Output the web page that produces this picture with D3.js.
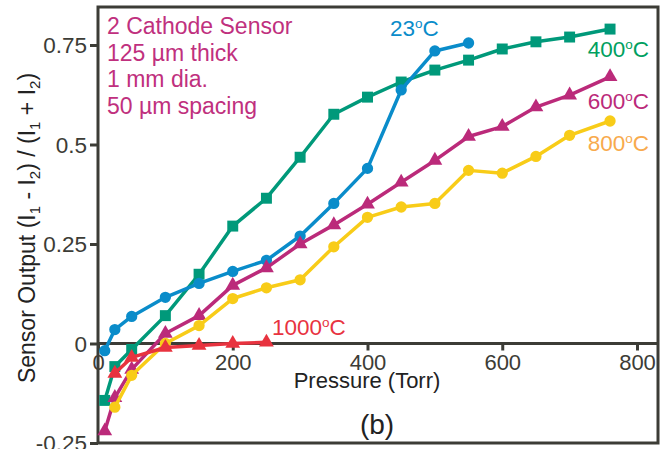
<!DOCTYPE html>
<html>
<head>
<meta charset="utf-8">
<script src="https://cdn.jsdelivr.net/npm/d3@7"></script>
<style>
  body { margin: 0; background: #fff; }
  svg { display: block; font-family: "Liberation Sans", Arial, sans-serif; }
</style>
</head>
<body>
<div id="chart"></div>
<script>
// data
var p23 = [10, 25, 50, 100, 150, 200, 250, 300, 350, 400, 450, 500, 550];
var v23 = [-0.018, 0.035, 0.068, 0.116, 0.151, 0.181, 0.209, 0.27, 0.352, 0.44, 0.637, 0.735, 0.755];

var p400 = [10, 25, 50, 100, 150, 200, 250, 300, 350, 400, 450, 500, 550, 600, 650, 700, 760];
var v400 = [-0.143, -0.058, -0.015, 0.07, 0.174, 0.295, 0.365, 0.468, 0.576, 0.619, 0.657, 0.687, 0.712, 0.74, 0.758, 0.77, 0.79];

var p600 = [10, 25, 50, 100, 150, 200, 250, 300, 350, 400, 450, 500, 550, 600, 650, 700, 760];
var v600 = [-0.22, -0.136, -0.065, 0.025, 0.07, 0.146, 0.19, 0.25, 0.298, 0.35, 0.405, 0.46, 0.52, 0.545, 0.594, 0.624, 0.67];

var p800 = [25, 50, 100, 150, 200, 250, 300, 350, 400, 450, 500, 550, 600, 650, 700, 760];
var v800 = [-0.16, -0.08, 0.0, 0.045, 0.113, 0.14, 0.16, 0.243, 0.317, 0.343, 0.352, 0.435, 0.428, 0.47, 0.523, 0.559];

var p1000 = [25, 50, 100, 150, 200, 250];
var v1000 = [-0.075, -0.035, -0.01, -0.005, 0.0, 0.003];

var xTicks = [0, 200, 400, 600, 800];
var yTicks = [-0.25, 0, 0.25, 0.5, 0.75];
var yTickLabels = ["-0.25", "0", "0.25", "0.5", "0.75"];

var infoLines = ["2 Cathode Sensor", "125 \u00b5m thick", "1 mm dia.", "50 \u00b5m spacing"];

var W = 668, H = 449;
var axisCol = "#3c3c36";

var x = d3.scaleLinear().domain([0, 800]).range([98, 637]);
var y = d3.scaleLinear().domain([-0.25, 0.75]).range([443, 45]);

var svg = d3.select("#chart").append("svg")
    .attr("width", W).attr("height", H);

// frame
var fx0 = x(0), fx1 = 658, fy0 = 7, fy1 = y(-0.25);
svg.append("rect")
    .attr("x", fx0).attr("y", fy0)
    .attr("width", fx1 - fx0).attr("height", fy1 - fy0)
    .attr("fill", "none").attr("stroke", axisCol).attr("stroke-width", 3);

// y axis ticks + labels
var yAxis = d3.axisLeft(y).tickValues(yTicks).tickSize(8)
    .tickFormat(function (d, i) { return yTickLabels[i]; });
var gy = svg.append("g").attr("transform", "translate(" + fx0 + ",0)").call(yAxis);
gy.select(".domain").remove();
gy.selectAll(".tick line").attr("stroke", axisCol).attr("stroke-width", 3);
gy.selectAll(".tick text").attr("fill", axisCol).attr("font-size", 22.5)
    .attr("font-family", "Liberation Sans, Arial, sans-serif").attr("x", -11).attr("dy", "0.35em");

// x axis along zero line, ticks hanging below
var xAxis = d3.axisBottom(x).tickValues(xTicks).tickSize(7).tickFormat(d3.format("d"));
var gx = svg.append("g").attr("transform", "translate(0," + y(0) + ")").call(xAxis);
gx.select(".domain").remove();
gx.selectAll(".tick line").attr("stroke", axisCol).attr("stroke-width", 3);
gx.selectAll(".tick text").attr("fill", axisCol).attr("font-size", 22)
    .attr("font-family", "Liberation Sans, Arial, sans-serif").attr("y", 11).attr("dy", "0.71em");
svg.append("line")
    .attr("x1", fx0).attr("x2", fx1).attr("y1", y(0)).attr("y2", y(0))
    .attr("stroke", axisCol).attr("stroke-width", 3);

// axis titles
svg.append("text").attr("x", 367).attr("y", 388).attr("text-anchor", "middle")
    .attr("font-size", 22).attr("fill", "#222").text("Pressure (Torr)");
svg.append("text").attr("x", 377).attr("y", 434).attr("text-anchor", "middle")
    .attr("font-size", 28).attr("fill", "#222").text("(b)");

var yt = svg.append("text").attr("transform", "translate(35,228) rotate(-90)")
    .attr("text-anchor", "middle").attr("font-size", 23).attr("fill", "#222");
yt.append("tspan").text("Sensor Output (I");
yt.append("tspan").attr("font-size", 15).attr("dy", 5).text("1");
yt.append("tspan").attr("dy", -5).text(" - I");
yt.append("tspan").attr("font-size", 15).attr("dy", 5).text("2");
yt.append("tspan").attr("dy", -5).text(") / (I");
yt.append("tspan").attr("font-size", 15).attr("dy", 5).text("1");
yt.append("tspan").attr("dy", -5).text(" + I");
yt.append("tspan").attr("font-size", 15).attr("dy", 5).text("2");
yt.append("tspan").attr("dy", -5).text(")");

// info text
svg.append("g").selectAll("text").data(infoLines).join("text")
    .attr("x", 107).attr("y", function (d, i) { return 34 + i * 26.5; })
    .attr("font-size", 23).attr("fill", "#c0307e").text(function (d) { return d; });

// series
var series = [
    { p: p400, v: v400, color: "#00997a", sym: d3.symbolSquare, size: 120 },
    { p: p23, v: v23, color: "#0a8cca", sym: d3.symbolCircle, size: 100 },
    { p: p600, v: v600, color: "#bb2a7a", sym: d3.symbolTriangle, size: 95 },
    { p: p800, v: v800, color: "#f8cc18", sym: d3.symbolCircle, size: 100 },
    { p: p1000, v: v1000, color: "#e8333f", sym: d3.symbolTriangle, size: 95 }
];

var line = d3.line().x(function (d) { return x(d[0]); }).y(function (d) { return y(d[1]); });

series.forEach(function (s) {
    var pts = d3.zip(s.p, s.v);
    var g = svg.append("g");
    g.append("path").datum(pts).attr("d", line)
        .attr("fill", "none").attr("stroke", s.color).attr("stroke-width", 3.5)
        .attr("stroke-linejoin", "round");
    g.selectAll("path.m").data(pts).join("path").attr("class", "m")
        .attr("transform", function (d) { return "translate(" + x(d[0]) + "," + y(d[1]) + ")"; })
        .attr("d", d3.symbol().type(s.sym).size(s.size))
        .attr("fill", s.color);
});

// series labels with superscript degree "o"
function tempLabel(txt, px, py, anchor, color) {
    var t = svg.append("text").attr("x", px).attr("y", py).attr("text-anchor", anchor)
        .attr("font-size", 22.5).attr("fill", color);
    t.append("tspan").text(txt);
    t.append("tspan").attr("font-size", 13.5).attr("dy", -8).text("o");
    t.append("tspan").attr("dy", 8).text("C");
}
tempLabel("23", 390, 36, "start", "#0a8cca");
tempLabel("400", 649, 57, "end", "#00a060");
tempLabel("600", 649, 109, "end", "#bb2a7a");
tempLabel("800", 649, 151, "end", "#f8aa4c");
tempLabel("1000", 272, 335, "start", "#e8333f");
</script>
</body>
</html>
